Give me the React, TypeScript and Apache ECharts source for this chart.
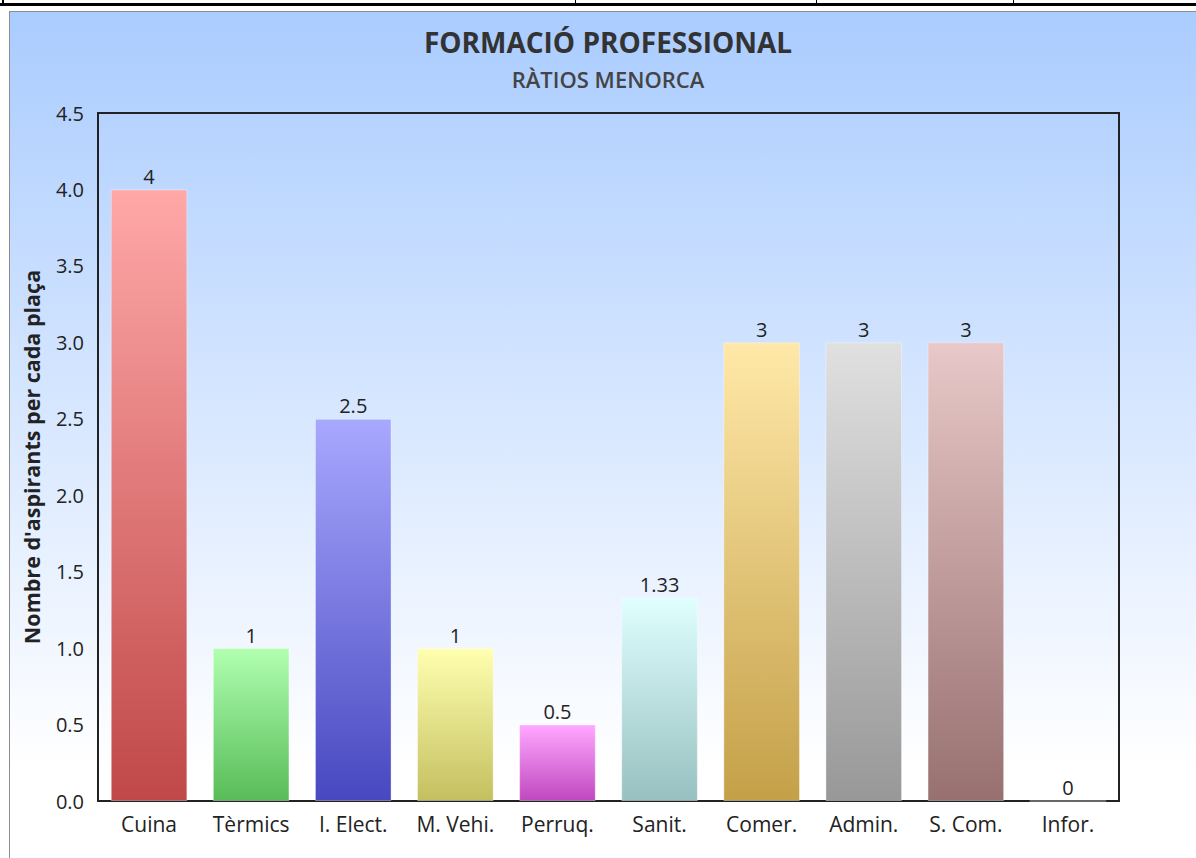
import React, { useEffect, useRef } from "react";
import * as echarts from "echarts";

const categories = ["Cuina", "Tèrmics", "I. Elect.", "M. Vehi.", "Perruq.", "Sanit.", "Comer.", "Admin.", "S. Com.", "Infor."];
const values = [4, 1, 2.5, 1, 0.5, 1.33, 3, 3, 3, 0];
const topColors = ["#ffa8a8", "#b0ffb0", "#a8a8ff", "#ffffb0", "#ffa8ff", "#e0ffff", "#ffe8a8", "#e0e0e0", "#e8c8c8", "#a8c8ff"];
const bottomColors = ["#c04848", "#58bc58", "#4848c0", "#c4c060", "#c048c0", "#98c0c0", "#c4a048", "#989898", "#987070", "#4878c0"];
const titleText = "FORMACIÓ PROFESSIONAL";
const subtitleText = "RÀTIOS MENORCA";
const yAxisName = "Nombre d'aspirants per cada plaça";
const yMin = 0;
const yMax = 4.5;
const yInterval = 0.5;

const FONT = "'Open Sans', 'Noto Sans', sans-serif";

export default function App() {
  const ref = useRef<HTMLDivElement>(null);

  useEffect(() => {
    if (!ref.current) return;
    const chart = echarts.init(ref.current, undefined, { renderer: "svg" });
    chart.setOption({
      animation: false,
      backgroundColor: new echarts.graphic.LinearGradient(0, 0, 0, 1, [
        { offset: 0, color: "#aaccff" },
        { offset: 0.88, color: "#ffffff" },
        { offset: 1, color: "#ffffff" },
      ]),
      textStyle: { fontFamily: FONT },
      title: {
        text: titleText,
        subtext: subtitleText,
        left: "center",
        top: 11,
        itemGap: 12,
        textStyle: { fontFamily: FONT, fontSize: 28, fontWeight: "bold", color: "#333333" },
        subtextStyle: { fontFamily: FONT, fontSize: 22, fontWeight: 600, color: "#444444" },
      },
      grid: {
        left: 88,
        top: 101,
        right: 87,
        bottom: 69,
        show: true,
        borderColor: "#222222",
        borderWidth: 2,
        backgroundColor: "transparent",
      },
      xAxis: {
        type: "category",
        data: categories,
        axisLine: { lineStyle: { color: "#222222", width: 2 } },
        axisTick: { show: false },
        axisLabel: { color: "#222222", fontSize: 21, fontFamily: FONT, margin: 12, interval: 0, hideOverlap: false },
      },
      yAxis: {
        type: "value",
        min: yMin,
        max: yMax,
        interval: yInterval,
        name: yAxisName,
        nameLocation: "middle",
        nameGap: 56,
        nameTextStyle: { fontFamily: FONT, fontSize: 21.5, fontWeight: "bold", color: "#222222" },
        axisLine: { show: true, lineStyle: { color: "#222222", width: 2 } },
        axisTick: { show: false },
        splitLine: { show: false },
        axisLabel: {
          color: "#222222",
          fontSize: 20,
          fontFamily: FONT,
          margin: 14,
          formatter: (v: number) => v.toFixed(1),
        },
      },
      series: [
        {
          type: "bar",
          barCategoryGap: "25%",
          data: values.map((v, i) => ({
            value: v,
            itemStyle: {
              color: new echarts.graphic.LinearGradient(0, 0, 0, 1, [
                { offset: 0, color: topColors[i] },
                { offset: 1, color: bottomColors[i] },
              ]),
              borderColor: "rgba(255,255,255,0.35)",
              borderWidth: 1,
            },
          })),
          label: {
            show: true,
            position: "top",
            distance: 3,
            color: "#222222",
            fontSize: 20,
            fontFamily: FONT,
          },
        },
      ],
    });
    return () => chart.dispose();
  }, []);

  return (
    <div style={{ position: "fixed", left: 0, top: 0, width: 1196, height: 858, overflow: "hidden", background: "#ffffff" }}>
      <div style={{ position: "absolute", left: 0, top: 3, width: 1196, height: 3, background: "#000000" }} />
      <div style={{ position: "absolute", left: 2, top: 0, width: 2, height: 6, background: "#000000" }} />
      <div style={{ position: "absolute", left: 575, top: 0, width: 1, height: 4, background: "#000000" }} />
      <div style={{ position: "absolute", left: 816, top: 0, width: 1, height: 4, background: "#000000" }} />
      <div style={{ position: "absolute", left: 1013, top: 0, width: 1, height: 4, background: "#000000" }} />
      <div
        ref={ref}
        style={{ position: "absolute", left: 9, top: 11, width: 1196, height: 858, border: "1px solid #8c8c8c" }}
      />
    </div>
  );
}
